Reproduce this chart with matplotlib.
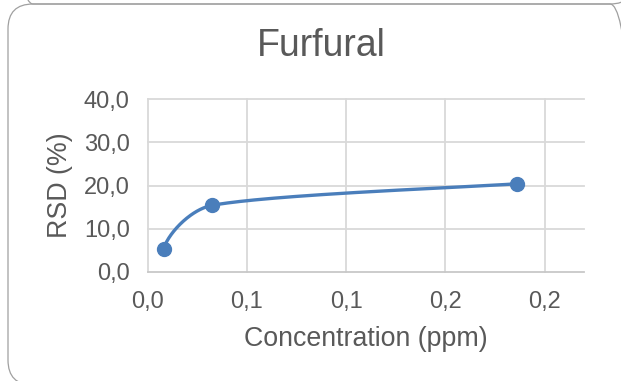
import numpy as np
import matplotlib
matplotlib.use("Agg")
import matplotlib.pyplot as plt
from matplotlib.patches import FancyBboxPatch
from matplotlib.transforms import IdentityTransform

# data
conc = [0.008, 0.0325, 0.186]
rsd = [5.3, 15.4, 20.4]
x_ticks = [0.0, 0.05, 0.10, 0.15, 0.20]
x_tick_labels = ['0,0', '0,1', '0,1', '0,2', '0,2']
y_ticks = [0, 10, 20, 30, 40]
y_tick_labels = ['0,0', '10,0', '20,0', '30,0', '40,0']

text_color = '#595959'
grid_color = '#d9d9d9'
line_color = '#4a7ebb'

plt.rcParams['font.family'] = ['Liberation Sans', 'DejaVu Sans']

W, H = 621, 381
fig = plt.figure(figsize=(W / 100, H / 100), dpi=100)

# rounded chart frames (this one, plus the bottom of the one above)
for y0 in (-4, 377):
    fig.add_artist(FancyBboxPatch((8, y0), 627, 381,
                                  boxstyle="round,pad=0,rounding_size=25",
                                  transform=IdentityTransform(),
                                  facecolor='none', edgecolor='#a0a0a0', lw=0.9))

# axes placed to match the plot area in pixels
left, right, top, bottom = 147.7, 584.3, 99.3, 271.7
ax = fig.add_axes([left / W, 1 - bottom / H, (right - left) / W, (bottom - top) / H])
xmax, ymax = 0.22, 40
ax.set_xlim(0, xmax)
ax.set_ylim(0, ymax)

# grid
for t in x_ticks:
    ax.axvline(t, color=grid_color, lw=1.3, clip_on=False, zorder=1)
for t in y_ticks[1:]:
    ax.axhline(t, color=grid_color, lw=1.3, clip_on=False, zorder=1)
ax.axhline(0, color='#c8c8c8', lw=1.3, clip_on=False, zorder=1)

for s in ax.spines.values():
    s.set_visible(False)

ax.set_xticks(x_ticks)
ax.set_xticklabels(x_tick_labels)
ax.set_yticks(y_ticks)
ax.set_yticklabels(y_tick_labels)
ax.tick_params(length=0, labelsize=17, colors=text_color)
ax.tick_params(axis='x', pad=14)
ax.tick_params(axis='y', pad=13)


# Excel-like smoothed line: bezier through the points, computed in pixel space
def smooth(xs, ys, n=80):
    pw, ph = right - left, bottom - top
    P = np.column_stack([np.array(xs) / xmax * pw, np.array(ys) / ymax * ph])
    m = len(P)
    unit = lambda v: v / np.linalg.norm(v)
    tang = [None] * m
    for i in range(1, m - 1):
        tang[i] = unit(P[i + 1] - P[i - 1])
    # start tangent: chord reflected about the next tangent; end: plain chord
    c = unit(P[1] - P[0])
    tang[0] = unit(2 * np.dot(c, tang[1]) * c - tang[1]) if m > 2 else c
    tang[-1] = unit(P[-1] - P[-2])
    out = []
    for i in range(m - 1):
        p1, p2 = P[i], P[i + 1]
        L = np.linalg.norm(p2 - p1)
        h1 = min(np.linalg.norm(P[i + 1] - P[i - 1]) / 6, L / 3) if i > 0 else L / 4
        h2 = min(np.linalg.norm(P[i + 2] - P[i]) / 6, L / 3) if i + 2 < m else L / 6
        c1, c2 = p1 + tang[i] * h1, p2 - tang[i + 1] * h2
        t = np.linspace(0, 1, n)[:, None]
        seg = ((1 - t) ** 3) * p1 + 3 * ((1 - t) ** 2) * t * c1 + 3 * (1 - t) * t ** 2 * c2 + t ** 3 * p2
        out.append(seg)
    pts = np.vstack(out)
    return pts[:, 0] / pw * xmax, pts[:, 1] / ph * ymax


sx, sy = smooth(conc, rsd)
ax.plot(sx, sy, color=line_color, lw=2.4, zorder=3, solid_capstyle='round')
ax.plot(conc, rsd, 'o', color=line_color, markersize=10, zorder=4)

# titles
fig.text(321 / W, 1 - 56 / H, 'Furfural', ha='center', va='baseline',
         fontsize=27, color=text_color)
fig.text((left + right) / 2 / W, 1 - 346 / H, 'Concentration (ppm)', ha='center',
         va='baseline', fontsize=19.3, color=text_color)
fig.text(60 / W, 1 - (top + bottom) / 2 / H, 'RSD (%)', ha='center', va='center',
         rotation=90, fontsize=19.3, color=text_color)

fig.savefig('out.png', dpi=100, facecolor='white')
